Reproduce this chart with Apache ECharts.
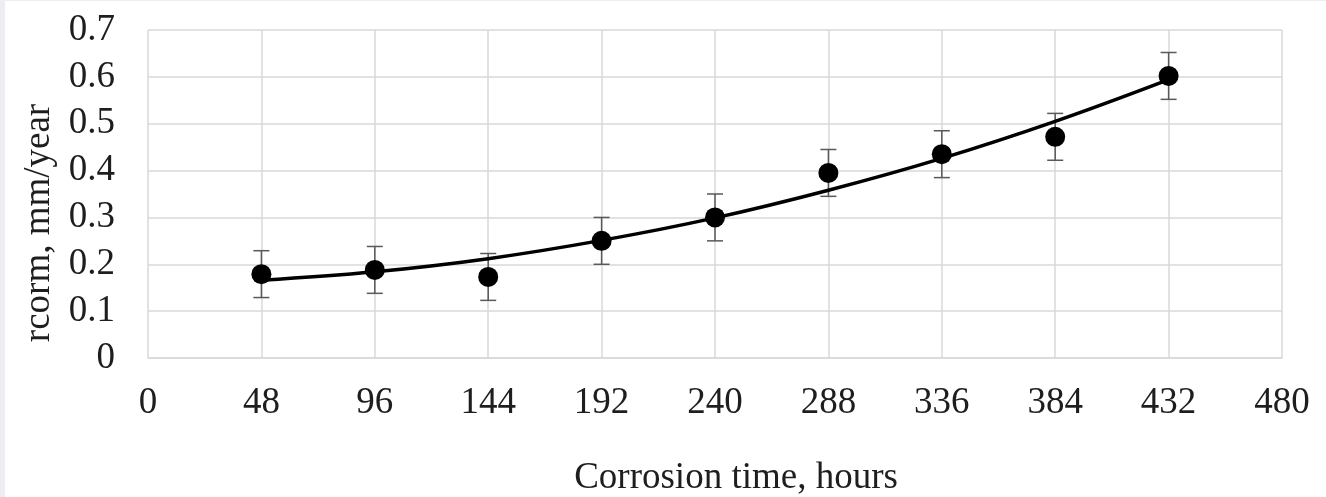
<!DOCTYPE html>
<html><head><meta charset="utf-8">
<script src="https://cdn.jsdelivr.net/npm/echarts@6/dist/echarts.min.js"></script>
<style>
html,body{margin:0;padding:0;background:#eceef2;}
#c{position:absolute;left:5px;top:1px;width:1321px;height:496px;background:#fff;}
</style></head><body>
<div id="c"></div>
<script>
const hours = [48, 96, 144, 192, 240, 288, 336, 384, 432];
const rcorm = [0.179, 0.188, 0.173, 0.250, 0.300, 0.395, 0.435, 0.472, 0.602];
const errors = [0.05, 0.05, 0.05, 0.05, 0.05, 0.05, 0.05, 0.05, 0.05];
const trend = [0.166, 0.184, 0.212, 0.251, 0.299, 0.358, 0.426, 0.505, 0.594];
const xTitle = 'Corrosion time, hours';
const yTitle = 'rcorm, mm/year';

const font = 'Liberation Serif';
const txt = '#1e1e1e';
const chart = echarts.init(document.getElementById('c'));
const pts = hours.map((h, i) => [h, rcorm[i]]);
const errData = hours.map((h, i) => [h, rcorm[i] - errors[i], rcorm[i] + errors[i]]);
const trendData = hours.map((h, i) => [h, trend[i]]);
chart.setOption({
  animation: false,
  grid: {left: 143, right: 44, top: 29, bottom: 139, containLabel: false, outerBoundsMode: 'none'},
  xAxis: {
    type: 'value', min: 0, max: 480, interval: 48,
    name: xTitle, nameLocation: 'middle', nameGap: 102,
    nameTextStyle: {fontFamily: font, fontSize: 37, color: txt, padding: [0, 0, 0, 42]},
    axisLine: {show: true, lineStyle: {color: '#d9d9d9', width: 1.5}},
    axisTick: {show: false},
    axisLabel: {fontFamily: font, fontSize: 37, color: txt, margin: 27},
    splitLine: {show: true, lineStyle: {color: '#d9d9d9', width: 1.5}}
  },
  yAxis: {
    type: 'value', min: 0, max: 0.7, interval: 0.1,
    name: yTitle, nameLocation: 'middle', nameGap: 88, nameRotate: 90,
    nameTextStyle: {fontFamily: font, fontSize: 37, color: txt, padding: [0, 58, 0, 0]},
    axisLine: {show: false},
    axisTick: {show: false},
    axisLabel: {fontFamily: font, fontSize: 37, color: txt, margin: 33},
    splitLine: {show: true, lineStyle: {color: '#d9d9d9', width: 1.5}}
  },
  series: [
    {
      type: 'custom', z: 3,
      renderItem: function (params, api) {
        const x = api.value(0);
        const lo = api.coord([x, api.value(1)]);
        const hi = api.coord([x, api.value(2)]);
        const w = 8;
        const style = {stroke: '#595959', lineWidth: 1.5};
        return {type: 'group', children: [
          {type: 'line', shape: {x1: lo[0], y1: lo[1], x2: hi[0], y2: hi[1]}, style: style},
          {type: 'line', shape: {x1: lo[0] - w, y1: lo[1], x2: lo[0] + w, y2: lo[1]}, style: style},
          {type: 'line', shape: {x1: hi[0] - w, y1: hi[1], x2: hi[0] + w, y2: hi[1]}, style: style}
        ]};
      },
      data: errData
    },
    {
      type: 'line', z: 4, data: trendData, smooth: 0.4, showSymbol: false,
      lineStyle: {color: '#000', width: 3.5}
    },
    {
      type: 'scatter', z: 5, data: pts, symbol: 'circle', symbolSize: 20,
      itemStyle: {color: '#000', opacity: 1}
    }
  ]
});
</script>
</body></html>
